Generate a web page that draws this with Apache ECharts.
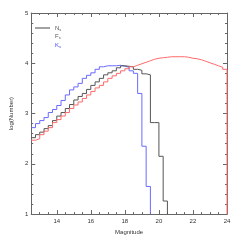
<!DOCTYPE html>
<html><head><meta charset="utf-8">
<script src="https://cdn.jsdelivr.net/npm/echarts@6/dist/echarts.min.js"></script>
<style>html,body{margin:0;padding:0;background:#fff}#c{width:240px;height:240px}</style>
</head><body><div id="c"></div>
<script>
var binEdges = [12.5,12.75,13.0,13.25,13.5,13.75,14.0,14.25,14.5,14.75,15.0,15.25,15.5,15.75,16.0,16.25,16.5,16.75,17.0,17.25,17.5,17.75,18.0,18.25,18.5,18.75,19.0,19.25,19.5,19.75,20.0,20.25,20.5,20.75,21.0,21.25,21.5,21.75,22.0,22.25,22.5,22.75,23.0,23.25,23.5,23.75,24.0];
var redValues = [2.47,2.50,2.58,2.65,2.72,2.82,2.88,2.95,3.02,3.10,3.17,3.23,3.30,3.37,3.44,3.51,3.56,3.63,3.70,3.75,3.80,3.85,3.89,3.93,3.96,3.99,4.02,4.05,4.08,4.10,4.11,4.12,4.13,4.13,4.13,4.13,4.12,4.10,4.09,4.07,4.04,4.01,3.98,3.95,3.92,3.88];
var blackValues = [2.52,2.58,2.63,2.70,2.76,2.86,2.95,3.02,3.10,3.18,3.27,3.34,3.40,3.48,3.56,3.63,3.70,3.77,3.81,3.85,3.91,3.95,3.94,3.93,3.88,3.86,3.79,3.77,2.82,2.82,2.15,1.26];
var blueValues = [2.72,2.80,2.86,2.92,3.02,3.08,3.16,3.26,3.37,3.47,3.53,3.60,3.70,3.76,3.81,3.88,3.93,3.95,3.95,3.95,3.96,3.94,3.92,3.85,3.80,3.40,2.35,1.55];
var xTickValues = [14,16,18,20,22,24];
var xMinorValues = [13,13.5,14.5,15,15.5,16.5,17,17.5,18.5,19,19.5,20.5,21,21.5,22.5,23,23.5];

function steps(vals){
  var d = [];
  for (var i=0;i<vals.length;i++) d.push([binEdges[i], vals[i]]);
  d.push([binEdges[vals.length], vals[vals.length-1]]);
  d.push([binEdges[vals.length], 1]);
  return d;
}
var FONT = 'Liberation Sans';
var axisCol = '#666';
var chart = echarts.init(document.getElementById('c'));
function xAx(pos, labels){
  return {type:'value', min:12.5, max:24, position:pos, gridIndex:0,
    axisLine:{show:true, onZero:false, lineStyle:{color:axisCol, width:1}},
    axisTick:{show:true, inside:true, length:4, customValues:xTickValues, lineStyle:{color:axisCol}},
    axisLabel:{show:labels, customValues:xTickValues, fontSize:6, fontFamily:FONT, color:'#333', margin:4},
    splitLine:{show:false},
    name: labels ? 'Magnitude' : '', nameLocation:'middle', nameGap:12,
    nameTextStyle:{fontSize:6, fontFamily:FONT, color:'#333'}};
}
function xMinor(pos){
  return {type:'value', min:12.5, max:24, position:pos, gridIndex:0,
    axisLine:{show:false, onZero:false},
    axisTick:{show:true, inside:true, length:2, customValues:xMinorValues, lineStyle:{color:axisCol}},
    axisLabel:{show:false}, splitLine:{show:false}};
}
function yAx(pos, labels){
  return {type:'value', min:1, max:5, interval:1, position:pos, gridIndex:0,
    axisLine:{show:true, onZero:false, lineStyle:{color:axisCol, width:1}},
    axisTick:{show:true, inside:true, length:4, lineStyle:{color:axisCol}},
    minorTick:{show:true, splitNumber:5, length:2, lineStyle:{color:axisCol}},
    axisLabel:{show:labels, fontSize:6, fontFamily:FONT, color:'#333', margin:3},
    splitLine:{show:false},
    name: labels ? 'log(Number)' : '', nameLocation:'middle', nameGap:11,
    nameTextStyle:{fontSize:6, fontFamily:FONT, color:'#333'}};
}
function rich(c){ return {b:{fontSize:6, fontFamily:FONT, color:c}, s:{fontSize:4, fontFamily:FONT, color:c, padding:[3,0,0,0]}}; }
chart.setOption({
  animation:false,
  grid:{left:26, right:13, top:13, bottom:25},
  xAxis:[xAx('bottom',true), xAx('top',false), xMinor('bottom'), xMinor('top')],
  yAxis:[yAx('left',true), yAx('right',false)],
  legend:{orient:'vertical', left:30, top:20, itemWidth:15, itemHeight:1, itemGap:2, icon:'rect',
    formatter:function(n){return '{b|'+n+'}{s|s}';},
    textStyle:{fontSize:6, fontFamily:FONT, color:'#555', rich:rich('#555')},
    data:[{name:'N', itemStyle:{color:'#444'}, textStyle:{color:'#555', rich:rich('#555')}},
          {name:'F', itemStyle:{opacity:0}, textStyle:{color:'#555', rich:rich('#555')}},
          {name:'K', itemStyle:{opacity:0}, textStyle:{color:'#44f', rich:rich('#44f')}}]},
  series:[
    {name:'F', type:'line', step:'end', symbol:'none', clip:false, z:5, data:steps(redValues), lineStyle:{color:'#ff6a6a', width:1}, itemStyle:{color:'#ff6a6a'}},
    {name:'N', type:'line', step:'end', symbol:'none', clip:false, z:4, data:steps(blackValues), lineStyle:{color:'#555', width:1}, itemStyle:{color:'#555'}},
    {name:'K', type:'line', step:'end', symbol:'none', clip:false, z:3, data:steps(blueValues), lineStyle:{color:'#6a6aff', width:1}, itemStyle:{color:'#6a6aff'}}
  ]
});
</script></body></html>
